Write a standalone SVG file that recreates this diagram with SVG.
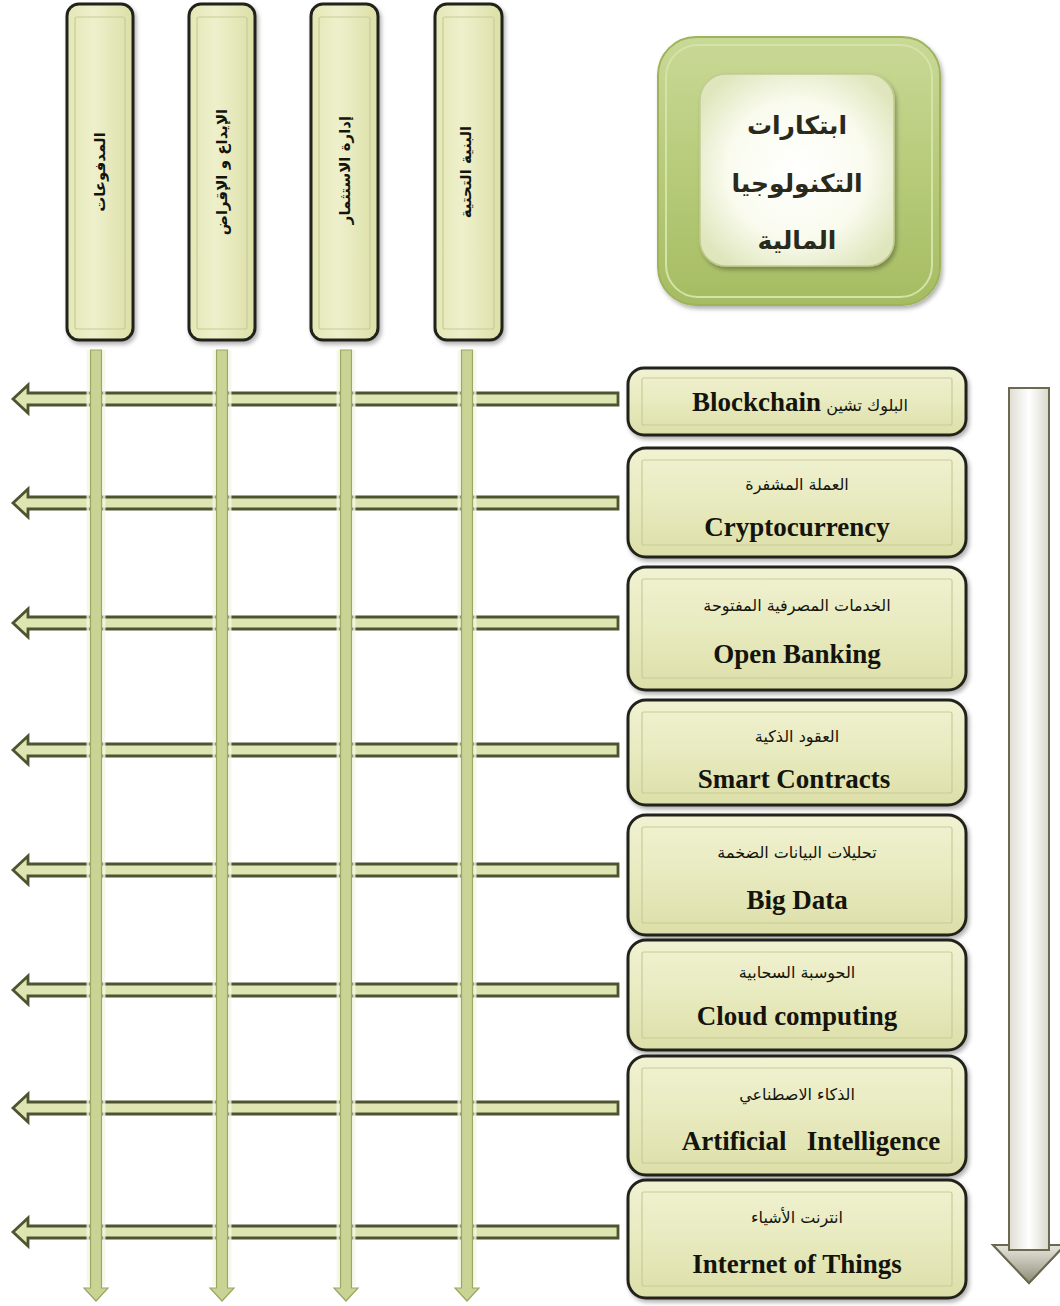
<svg xmlns="http://www.w3.org/2000/svg" width="1060" height="1306" viewBox="0 0 1060 1306">
<style>
.en{font-family:'Liberation Serif','Times New Roman',serif;font-weight:bold;font-size:27px;fill:#14140c}
.ar{font-family:'DejaVu Sans','Noto Sans',sans-serif;font-size:16px;fill:#14140c}
.col-ar{font-family:'DejaVu Sans','Noto Sans',sans-serif;font-weight:bold;font-size:15px;fill:#14140c}
.title-ar{font-family:'DejaVu Sans','Noto Sans',sans-serif;font-weight:bold;font-size:25px;fill:#2a2a1c}
.box{fill:url(#boxFill);stroke:#23231a;stroke-width:3;filter:url(#shadow)}
.inner{fill:none;stroke:#c9cc98;stroke-width:1.2}
.col{fill:url(#colFill);stroke:#23231a;stroke-width:3;filter:url(#shadow)}
.harrow{fill:#dfe5b2;stroke:#4d5430;stroke-width:2.8;stroke-linejoin:miter}
.varrow{fill:#c9d394;stroke:#9ba763;stroke-width:1.2}
.halo{fill:none;stroke:#f4f6e4;stroke-width:3;opacity:0.8}
</style>
<defs>
<linearGradient id="boxFill" x1="0" y1="0" x2="0" y2="1">
<stop offset="0" stop-color="#f1f2d2"/>
<stop offset="0.5" stop-color="#e8eabf"/>
<stop offset="1" stop-color="#dcdfa8"/>
</linearGradient>
<linearGradient id="colFill" x1="0" y1="0" x2="1" y2="0">
<stop offset="0" stop-color="#e4e7b4"/>
<stop offset="0.4" stop-color="#eef0cc"/>
<stop offset="1" stop-color="#dcdfa6"/>
</linearGradient>
<linearGradient id="titleOuter" x1="0" y1="0" x2="0" y2="1">
<stop offset="0" stop-color="#c9d996"/>
<stop offset="0.5" stop-color="#b7cb7a"/>
<stop offset="1" stop-color="#a6bc62"/>
</linearGradient>
<radialGradient id="titleInner" cx="0.5" cy="0.5" r="0.6">
<stop offset="0" stop-color="#ffffff"/>
<stop offset="0.6" stop-color="#fafbee"/>
<stop offset="1" stop-color="#dfe6bd"/>
</radialGradient>
<linearGradient id="bigShaft" x1="0" y1="0" x2="1" y2="0">
<stop offset="0" stop-color="#8e8c78"/>
<stop offset="0.2" stop-color="#dcdad0"/>
<stop offset="0.5" stop-color="#ffffff"/>
<stop offset="0.8" stop-color="#d6d4c8"/>
<stop offset="1" stop-color="#858370"/>
</linearGradient>
<linearGradient id="bigHead" x1="0" y1="0" x2="0" y2="1">
<stop offset="0" stop-color="#e8e7df"/>
<stop offset="0.6" stop-color="#b4b2a2"/>
<stop offset="1" stop-color="#8a8874"/>
</linearGradient>
<filter id="shadow" x="-10%" y="-10%" width="130%" height="130%">
<feDropShadow dx="2" dy="3" stdDeviation="2" flood-color="#000" flood-opacity="0.3"/>
</filter>
</defs>

<g id="title">
<rect x="658" y="37" width="282" height="268" rx="38" fill="url(#titleOuter)" stroke="#9fb35c" stroke-width="2" filter="url(#shadow)"/>
<rect x="666" y="45" width="266" height="252" rx="32" fill="none" stroke="#d5e2a8" stroke-width="2"/>
<rect x="700" y="74" width="194" height="192" rx="26" fill="url(#titleInner)" stroke="#c2cb92" stroke-width="1.5" filter="url(#shadow)"/>
<text class="title-ar" x="797" y="134" text-anchor="middle">ابتكارات</text>
<text class="title-ar" x="797" y="192" text-anchor="middle">التكنولوجيا</text>
<text class="title-ar" x="797" y="249" text-anchor="middle">المالية</text>
</g>

<g id="connectors">
<path class="harrow" d="M618,393 H28 V385 L13,399 L28,413 V405 H618 Z"/>
<path class="harrow" d="M618,497 H28 V489 L13,503 L28,517 V509 H618 Z"/>
<path class="harrow" d="M618,617 H28 V609 L13,623 L28,637 V629 H618 Z"/>
<path class="harrow" d="M618,744 H28 V736 L13,750 L28,764 V756 H618 Z"/>
<path class="harrow" d="M618,864 H28 V856 L13,870 L28,884 V876 H618 Z"/>
<path class="harrow" d="M618,984 H28 V976 L13,990 L28,1004 V996 H618 Z"/>
<path class="harrow" d="M618,1102 H28 V1094 L13,1108 L28,1122 V1114 H618 Z"/>
<path class="harrow" d="M618,1226 H28 V1218 L13,1232 L28,1246 V1238 H618 Z"/>
<path class="halo" d="M88,350 V1286 M104,350 V1286 M214,350 V1286 M230,350 V1286 M338,350 V1286 M354,350 V1286 M459,350 V1286 M475,350 V1286"/>
<path class="varrow" d="M90.5,350 V1288 H84 L96,1301 L108,1288 H101.5 V350 Z"/>
<path class="varrow" d="M216.5,350 V1288 H210 L222,1301 L234,1288 H227.5 V350 Z"/>
<path class="varrow" d="M340.5,350 V1288 H334 L346,1301 L358,1288 H351.5 V350 Z"/>
<path class="varrow" d="M461.5,350 V1288 H455 L467,1301 L479,1288 H472.5 V350 Z"/>
<path d="M1009,388 H1049 V1245 H1065 L1029,1283 L993,1245 H1009 Z" fill="url(#bigShaft)" stroke="#6b6a50" stroke-width="2" stroke-linejoin="miter"/>
<path d="M993,1245 H1009 V1250 H1049 V1245 H1065 L1029,1283 Z" fill="url(#bigHead)" stroke="#6b6a50" stroke-width="2" stroke-linejoin="miter"/>
</g>

<g id="col-payments">
<rect class="col" x="67" y="4" width="66" height="336" rx="12"/>
<rect class="inner" x="75" y="17" width="50" height="312" rx="2"/>
<text class="col-ar" transform="translate(100,172) rotate(-90)" text-anchor="middle" dominant-baseline="central">المدفوعات</text>
</g>
<g id="col-deposits">
<rect class="col" x="189" y="4" width="66" height="336" rx="12"/>
<rect class="inner" x="197" y="17" width="50" height="312" rx="2"/>
<text class="col-ar" transform="translate(222,172) rotate(-90)" text-anchor="middle" dominant-baseline="central">الإيداع و الإقراض</text>
</g>
<g id="col-investment">
<rect class="col" x="311" y="4" width="67" height="336" rx="12"/>
<rect class="inner" x="319" y="17" width="51" height="312" rx="2"/>
<text class="col-ar" transform="translate(345,170) rotate(-90)" text-anchor="middle" dominant-baseline="central">إدارة الاستثمار</text>
</g>
<g id="col-infrastructure">
<rect class="col" x="435" y="4" width="67" height="336" rx="12"/>
<rect class="inner" x="443" y="17" width="51" height="312" rx="2"/>
<text class="col-ar" transform="translate(466,172) rotate(-90)" text-anchor="middle" dominant-baseline="central">البنية التحتية</text>
</g>

<g id="blockchain">
<rect class="box" x="628" y="368" width="338" height="67" rx="16"/>
<rect class="inner" x="642" y="378" width="310" height="47" rx="2"/>
<text x="800" y="411" text-anchor="middle"><tspan class="en">Blockchain</tspan><tspan class="ar"> البلوك تشين</tspan></text>
</g>
<g id="crypto">
<rect class="box" x="628" y="448" width="338" height="109" rx="18"/>
<rect class="inner" x="642" y="460" width="310" height="85" rx="2"/>
<text class="ar" x="797" y="490" text-anchor="middle">العملة المشفرة</text>
<text class="en" x="797" y="536" text-anchor="middle">Cryptocurrency</text>
</g>
<g id="openbanking">
<rect class="box" x="628" y="567" width="338" height="123" rx="18"/>
<rect class="inner" x="642" y="579" width="310" height="99" rx="2"/>
<text class="ar" x="797" y="611" text-anchor="middle">الخدمات المصرفية المفتوحة</text>
<text class="en" x="797" y="663" text-anchor="middle">Open Banking</text>
</g>
<g id="smartcontracts">
<rect class="box" x="628" y="700" width="338" height="105" rx="18"/>
<rect class="inner" x="642" y="712" width="310" height="81" rx="2"/>
<text class="ar" x="797" y="742" text-anchor="middle">العقود الذكية</text>
<text class="en" x="794" y="788" text-anchor="middle">Smart Contracts</text>
</g>
<g id="bigdata">
<rect class="box" x="628" y="815" width="338" height="120" rx="18"/>
<rect class="inner" x="642" y="827" width="310" height="96" rx="2"/>
<text class="ar" x="797" y="858" text-anchor="middle">تحليلات البيانات الضخمة</text>
<text class="en" x="797" y="909" text-anchor="middle">Big Data</text>
</g>
<g id="cloud">
<rect class="box" x="628" y="940" width="338" height="110" rx="18"/>
<rect class="inner" x="642" y="952" width="310" height="86" rx="2"/>
<text class="ar" x="797" y="978" text-anchor="middle">الحوسبة السحابية</text>
<text class="en" x="797" y="1025" text-anchor="middle">Cloud computing</text>
</g>
<g id="ai">
<rect class="box" x="628" y="1056" width="338" height="119" rx="18"/>
<rect class="inner" x="642" y="1068" width="310" height="95" rx="2"/>
<text class="ar" x="797" y="1100" text-anchor="middle">الذكاء الاصطناعي</text>
<text class="en" x="811" y="1150" text-anchor="middle">Artificial&#160;&#160;&#160;Intelligence</text>
</g>
<g id="iot">
<rect class="box" x="628" y="1180" width="338" height="118" rx="18"/>
<rect class="inner" x="642" y="1192" width="310" height="94" rx="2"/>
<text class="ar" x="797" y="1223" text-anchor="middle">انترنت الأشياء</text>
<text class="en" x="797" y="1273" text-anchor="middle">Internet of Things</text>
</g>
</svg>
